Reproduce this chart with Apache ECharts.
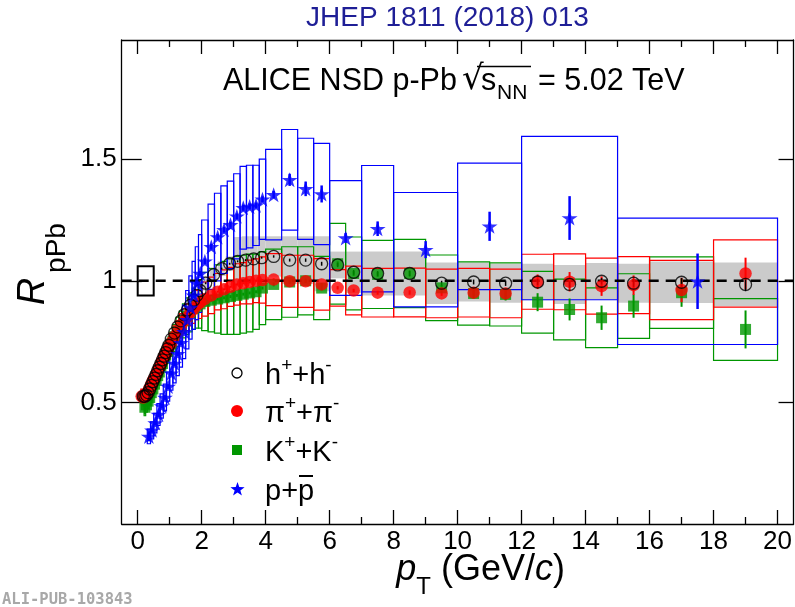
<!DOCTYPE html>
<html>
<head>
<meta charset="utf-8">
<title>ALICE NSD p-Pb R_pPb</title>
<script src="https://cdn.jsdelivr.net/npm/echarts@6/dist/echarts.min.js"></script>
<style>
  html, body { margin: 0; padding: 0; background: #fff; }
  #chart { width: 795px; height: 607px; }
</style>
</head>
<body>
<div id="chart"></div>
<script>
// ---- charged hadrons h+ + h- ----
const hPt = [0.175,0.225,0.275,0.325,0.375,0.425,0.475,0.525,0.575,0.625,0.675,0.725,0.775,0.825,0.875,0.925,0.975,
  1.05,1.15,1.25,1.35,1.45,1.55,1.65,1.75,1.85,1.95,
  2.125,2.375,2.625,2.875,3.125,3.375,3.625,3.875,
  4.25,4.75,5.25,5.75,6.25,6.75,
  7.5,8.5,9.5,
  10.5,11.5,12.5,13.5,14.5,15.5,
  17,19];
const hR = [0.525,0.525,0.53,0.54,0.555,0.57,0.585,0.60,0.615,0.63,0.645,0.66,0.675,0.69,0.705,0.72,0.735,
  0.76,0.785,0.81,0.835,0.86,0.88,0.90,0.92,0.94,0.96,
  0.99,1.025,1.05,1.07,1.08,1.085,1.09,1.095,
  1.10,1.085,1.085,1.07,1.065,1.035,
  1.03,1.03,0.99,
  0.995,0.99,0.995,0.985,0.998,0.99,
  0.994,0.985];
const hStat = [0.003,0.003,0.003,0.003,0.003,0.003,0.003,0.003,0.003,0.003,0.003,0.003,0.003,0.003,0.003,0.003,0.003,
  0.003,0.003,0.003,0.003,0.003,0.003,0.003,0.003,0.003,0.003,
  0.004,0.004,0.004,0.004,0.004,0.004,0.004,0.004,
  0.005,0.006,0.007,0.008,0.009,0.01,
  0.01,0.012,0.01,
  0.01,0.011,0.012,0.013,0.013,0.015,
  0.018,0.028];
const hSys = [0.02,0.02,0.02,0.02,0.02,0.02,0.02,0.02,0.02,0.02,0.02,0.02,0.02,0.02,0.02,0.02,0.02,
  0.025,0.025,0.025,0.025,0.025,0.025,0.025,0.025,0.025,0.025,
  0.03,0.03,0.03,0.03,0.1,0.098,0.093,0.088,
  0.083,0.098,0.098,0.113,0.055,0.085,
  0.09,0.09,0.085,
  0.08,0.08,0.075,0.08,0.075,0.08,
  0.085,0.09];
const hBinW = [0.05,0.05,0.05,0.05,0.05,0.05,0.05,0.05,0.05,0.05,0.05,0.05,0.05,0.05,0.05,0.05,0.05,
  0.1,0.1,0.1,0.1,0.1,0.1,0.1,0.1,0.1,0.1,
  0.25,0.25,0.25,0.25,0.25,0.25,0.25,0.25,
  0.5,0.5,0.5,0.5,0.5,0.5,
  1,1,1,
  1,1,1,1,1,1,
  2,2];

// ---- pions pi+ + pi- ----
const piPt = [0.125,0.175,0.225,0.275,0.325,0.375,0.425,0.475,0.525,0.575,0.625,0.675,0.725,0.775,0.825,0.875,0.925,0.975,
  1.05,1.15,1.25,1.35,1.45,1.55,1.65,1.75,1.85,1.95,
  2.1,2.3,2.5,2.7,2.9,3.1,3.3,3.5,3.7,3.9,
  4.25,4.75,5.25,5.75,6.25,6.75,
  7.5,8.5,9.5,
  10.5,11.5,12.5,13.5,14.5,15.5,
  17,19];
const piR = [0.525,0.52,0.525,0.535,0.545,0.56,0.575,0.59,0.60,0.615,0.63,0.645,0.66,0.675,0.69,0.70,0.715,0.73,
  0.745,0.77,0.79,0.815,0.835,0.85,0.87,0.885,0.90,0.91,
  0.925,0.94,0.955,0.965,0.975,0.985,0.99,0.995,1.0,1.003,
  1.005,0.998,0.998,0.985,0.971,0.96,
  0.951,0.952,0.948,
  0.951,0.948,0.996,0.996,0.978,0.982,
  0.962,1.03];
const piStat = [0.03,0.004,0.004,0.004,0.004,0.004,0.004,0.004,0.004,0.004,0.004,0.004,0.004,0.004,0.004,0.004,0.004,0.004,
  0.004,0.004,0.004,0.004,0.004,0.004,0.004,0.004,0.004,0.004,
  0.004,0.004,0.004,0.004,0.004,0.004,0.004,0.004,0.004,0.004,
  0.005,0.005,0.006,0.006,0.007,0.007,
  0.008,0.009,0.01,
  0.012,0.015,0.03,0.04,0.04,0.04,
  0.05,0.065];
const piSys = [0.03,0.025,0.025,0.025,0.025,0.025,0.025,0.025,0.025,0.03,0.03,0.03,0.03,0.03,0.03,0.03,0.035,0.035,
  0.04,0.045,0.045,0.05,0.05,0.055,0.055,0.06,0.06,0.065,
  0.07,0.075,0.075,0.08,0.08,0.085,0.085,0.09,0.09,0.095,
  0.107,0.107,0.107,0.106,0.075,0.1,
  0.1,0.1,0.1,
  0.1,0.1,0.113,0.115,0.115,0.117,
  0.122,0.138];
const piBinW = [0.05,0.05,0.05,0.05,0.05,0.05,0.05,0.05,0.05,0.05,0.05,0.05,0.05,0.05,0.05,0.05,0.05,0.05,
  0.1,0.1,0.1,0.1,0.1,0.1,0.1,0.1,0.1,0.1,
  0.2,0.2,0.2,0.2,0.2,0.2,0.2,0.2,0.2,0.2,
  0.5,0.5,0.5,0.5,0.5,0.5,
  1,1,1,
  1,1,1,1,1,1,
  2,2];

// ---- kaons K+ + K- ----
const kPt = [0.225,0.275,0.325,0.375,0.425,0.475,0.525,0.575,0.625,0.675,0.725,0.775,0.825,0.875,0.925,0.975,
  1.05,1.15,1.25,1.35,1.45,1.55,1.65,1.75,1.85,1.95,
  2.1,2.3,2.5,2.7,2.9,3.1,3.3,3.5,3.7,3.9,
  4.25,4.75,5.25,5.75,6.25,6.75,
  7.5,8.5,9.5,
  10.5,11.5,12.5,13.5,14.5,15.5,
  17,19];
const kR = [0.48,0.49,0.505,0.52,0.54,0.555,0.575,0.59,0.61,0.625,0.645,0.66,0.68,0.695,0.71,0.725,
  0.74,0.765,0.79,0.81,0.835,0.855,0.87,0.885,0.895,0.905,
  0.915,0.92,0.925,0.93,0.935,0.94,0.945,0.95,0.955,0.97,
  0.985,0.995,1.0,0.97,1.07,1.03,
  1.026,1.03,0.971,
  0.948,0.944,0.912,0.882,0.848,0.896,
  0.951,0.80];
const kStat = [0.03,0.005,0.005,0.005,0.005,0.005,0.005,0.005,0.005,0.005,0.005,0.005,0.005,0.005,0.005,0.005,
  0.005,0.005,0.005,0.005,0.005,0.005,0.005,0.005,0.005,0.005,
  0.006,0.006,0.006,0.006,0.006,0.006,0.006,0.006,0.006,0.006,
  0.008,0.008,0.009,0.01,0.01,0.01,
  0.01,0.011,0.012,
  0.02,0.025,0.037,0.045,0.05,0.048,
  0.058,0.078];
const kSys = [0.035,0.03,0.03,0.03,0.03,0.03,0.03,0.035,0.035,0.035,0.035,0.04,0.04,0.04,0.04,0.045,
  0.05,0.055,0.06,0.065,0.07,0.075,0.08,0.085,0.09,0.1,
  0.12,0.13,0.14,0.15,0.155,0.16,0.16,0.16,0.155,0.15,
  0.145,0.145,0.14,0.13,0.166,0.15,
  0.14,0.14,0.135,
  0.13,0.13,0.127,0.125,0.123,0.133,
  0.147,0.127];
const kBinW = [0.05,0.05,0.05,0.05,0.05,0.05,0.05,0.05,0.05,0.05,0.05,0.05,0.05,0.05,0.05,0.05,
  0.1,0.1,0.1,0.1,0.1,0.1,0.1,0.1,0.1,0.1,
  0.2,0.2,0.2,0.2,0.2,0.2,0.2,0.2,0.2,0.2,
  0.5,0.5,0.5,0.5,0.5,0.5,
  1,1,1,
  1,1,1,1,1,1,
  2,2];

// ---- protons p + pbar ----
const pPt = [0.35,0.45,0.55,0.65,0.75,0.85,0.95,
  1.05,1.15,1.25,1.35,1.45,1.55,1.65,1.75,1.85,1.95,
  2.1,2.3,2.5,2.7,2.9,3.1,3.3,3.5,3.7,3.9,
  4.25,4.75,5.25,5.75,
  6.5,7.5,9,11,13.5,17.5];
const pR = [0.36,0.385,0.415,0.45,0.485,0.52,0.565,
  0.62,0.66,0.70,0.745,0.79,0.84,0.89,0.94,0.99,1.03,
  1.08,1.14,1.18,1.21,1.23,1.265,1.30,1.305,1.31,1.335,
  1.354,1.415,1.378,1.357,
  1.176,1.214,1.128,1.224,1.258,0.998];
const pStat = [0.02,0.01,0.01,0.01,0.01,0.01,0.01,
  0.01,0.01,0.01,0.01,0.01,0.01,0.01,0.01,0.01,0.01,
  0.012,0.012,0.012,0.012,0.012,0.012,0.012,0.012,0.012,0.012,
  0.015,0.025,0.03,0.035,
  0.02,0.03,0.035,0.06,0.09,0.114];
const pSys = [0.03,0.035,0.04,0.045,0.05,0.055,0.06,
  0.07,0.08,0.09,0.1,0.11,0.12,0.13,0.14,0.15,0.16,
  0.17,0.175,0.18,0.18,0.18,0.175,0.17,0.17,0.165,0.165,
  0.186,0.207,0.208,0.208,
  0.236,0.26,0.235,0.26,0.336,0.26];
const pBinW = [0.1,0.1,0.1,0.1,0.1,0.1,0.1,
  0.1,0.1,0.1,0.1,0.1,0.1,0.1,0.1,0.1,0.1,
  0.2,0.2,0.2,0.2,0.2,0.2,0.2,0.2,0.2,0.2,
  0.5,0.5,0.5,0.5,
  1,1,2,2,3,5];

// normalisation uncertainty, drawn as a box at unity
const normCenter = [0.25];
const normUnc = [0.06];
const normBinW = [0.5];
const unityR = 1;

// axis ticks and labels
const xMajorTicks = [0,2,4,6,8,10,12,14,16,18,20];
const xMinorTicks = [1,3,5,7,9,11,13,15,17,19];
const yTicks = [0.5,1,1.5];

// ---- drawing helpers ----
const FONT = '"Liberation Sans", Arial, Helvetica, sans-serif';
const RED = '#ff0000', GREEN = '#009600', BLUE = '#0000ff', GREY = '#cbcbcb';
const STAR = 'path://M50,0L61.8,35.1L98.9,35.1L68.8,56.8L80.2,91.9L50,70.2L19.8,91.9L31.2,56.8L1.1,35.1L38.2,35.1Z';

function boxData(pt, r, sys, w) { return pt.map((x, i) => [x, r[i], sys[i], w[i]]); }
function errData(pt, r, stat) { return pt.map((x, i) => [x, r[i], stat[i]]); }
function pointData(pt, r) { return pt.map((x, i) => [x, r[i]]); }

function boxSeries(data, color, filled, lw) {
  return {
    type: 'custom', silent: true, data: data, encode: { x: 0, y: 1 },
    renderItem: function (params, api) {
      const x = api.value(0), y = api.value(1), e = api.value(2), w = api.value(3);
      const a = api.coord([x - w / 2, y + e]);
      const b = api.coord([x + w / 2, y - e]);
      return {
        type: 'rect',
        shape: { x: a[0], y: a[1], width: b[0] - a[0], height: b[1] - a[1] },
        style: filled ? { fill: color } : { fill: 'none', stroke: color, lineWidth: lw }
      };
    }
  };
}

function errSeries(data, color, lw) {
  return {
    type: 'custom', silent: true, data: data, encode: { x: 0, y: 1 },
    renderItem: function (params, api) {
      const x = api.value(0), y = api.value(1), e = api.value(2);
      const a = api.coord([x, y + e]);
      const b = api.coord([x, y - e]);
      return { type: 'line', shape: { x1: a[0], y1: a[1], x2: b[0], y2: b[1] }, style: { stroke: color, lineWidth: lw } };
    }
  };
}

function markerSeries(data, symbol, size, itemStyle) {
  return { type: 'scatter', silent: true, data: data, symbol: symbol, symbolSize: size, itemStyle: itemStyle };
}

const lineStyle = { color: '#000', width: 1.3 };

function xAxisDef(position, ticks, len, withLine, withLabel) {
  return {
    type: 'value', position: position, min: -0.5, max: 20.5,
    axisLine: { show: withLine, onZero: false, lineStyle: lineStyle },
    axisTick: { show: true, inside: true, length: len, customValues: ticks, lineStyle: lineStyle },
    axisLabel: withLabel
      ? { show: true, customValues: ticks, fontSize: 26, fontFamily: FONT, color: '#000', margin: 5 }
      : { show: false },
    splitLine: { show: false }
  };
}
function yAxisDef(position, len, withLabel) {
  return {
    type: 'value', position: position, min: 0, max: 1.99,
    axisLine: { show: true, onZero: false, lineStyle: lineStyle },
    axisTick: { show: true, inside: true, length: len, customValues: yTicks, lineStyle: lineStyle },
    axisLabel: withLabel
      ? { show: true, customValues: yTicks, fontSize: 26, fontFamily: FONT, color: '#000', margin: 5 }
      : { show: false },
    splitLine: { show: false }
  };
}

const supRich = {
  m: { fontSize: 29, fontFamily: FONT, lineHeight: 34, verticalAlign: 'bottom', fill: '#000' },
  s: { fontSize: 19, fontFamily: FONT, lineHeight: 22, verticalAlign: 'top', fill: '#000' }
};
function legendText(y, text) {
  return { type: 'text', x: 265, y: y, style: { text: text, rich: supRich, align: 'left', verticalAlign: 'middle', fill: '#000' } };
}

// five-pointed star outline for the legend glyph
function starPoints(cx, cy, rOut, rIn) {
  const pts = [];
  for (let k = 0; k < 10; k++) {
    const r = k % 2 === 0 ? rOut : rIn;
    const a = -Math.PI / 2 + k * Math.PI / 5;
    pts.push([cx + r * Math.cos(a), cy + r * Math.sin(a)]);
  }
  return pts;
}

// x-axis title pieces laid out with measured widths
const measureCtx = document.createElement('canvas').getContext('2d');
function textWidth(str, font) { measureCtx.font = font; return measureCtx.measureText(str).width; }
const titleSize = 36, subSize = 24;
const titleParts = [
  { t: 'p', italic: true, size: titleSize, dy: 0 },
  { t: 'T', italic: false, size: subSize, dy: 11 },
  { t: ' (GeV/', italic: false, size: titleSize, dy: 0 },
  { t: 'c', italic: true, size: titleSize, dy: 0 },
  { t: ')', italic: false, size: titleSize, dy: 0 }
];
const titleRight = 565, titleBase = 588;
let titleTotal = 0;
titleParts.forEach(p => {
  p.font = (p.italic ? 'italic ' : '') + p.size + 'px "Liberation Sans"';
  p.w = textWidth(p.t, p.font);
  titleTotal += p.w;
});
let cursor = titleRight - titleTotal;
const titleGraphics = titleParts.map(p => {
  const g = { type: 'text', x: cursor, y: titleBase + p.dy, style: {
    text: p.t, fontSize: p.size, fontStyle: p.italic ? 'italic' : 'normal', fontFamily: FONT,
    fill: '#000', align: 'left', verticalAlign: 'bottom', lineHeight: p.size } };
  cursor += p.w;
  return g;
});

const chart = echarts.init(document.getElementById('chart'), null, { renderer: 'canvas' });

chart.setOption({
  animation: false,
  backgroundColor: '#fff',
  grid: { left: 121.7, right: 1.3, top: 40, bottom: 83, containLabel: false },
  xAxis: [
    xAxisDef('bottom', xMajorTicks, 14, true, true),
    xAxisDef('bottom', xMinorTicks, 7, false, false),
    xAxisDef('top', xMajorTicks, 14, true, false),
    xAxisDef('top', xMinorTicks, 7, false, false)
  ],
  yAxis: [
    yAxisDef('left', 20, true),
    yAxisDef('right', 15, false)
  ],
  series: [
    // systematic uncertainties
    boxSeries(boxData(hPt, hR, hSys, hBinW), GREY, true, 0),
    boxSeries(boxData(kPt, kR, kSys, kBinW), GREEN, false, 1.2),
    boxSeries(boxData(piPt, piR, piSys, piBinW), RED, false, 1.2),
    boxSeries(boxData(pPt, pR, pSys, pBinW), BLUE, false, 1.2),
    boxSeries([[normCenter[0], unityR, normUnc[0], normBinW[0]]], '#000', false, 2),
    // reference line at unity
    {
      type: 'custom', silent: true, data: [[0, unityR]], encode: { x: 0, y: 1 },
      renderItem: function (params, api) {
        const cs = params.coordSys;
        const y = api.coord([0, api.value(1)])[1];
        return { type: 'line', shape: { x1: cs.x, y1: y, x2: cs.x + cs.width, y2: y },
                 style: { stroke: '#000', lineWidth: 2.5, lineDash: [10, 7] } };
      }
    },
    // statistical uncertainties
    errSeries(errData(kPt, kR, kStat), GREEN, 2),
    errSeries(errData(piPt, piR, piStat), RED, 2),
    errSeries(errData(hPt, hR, hStat), '#000', 1.5),
    errSeries(errData(pPt, pR, pStat), BLUE, 2.5),
    // markers
    markerSeries(pointData(kPt, kR), 'rect', 11, { color: GREEN }),
    markerSeries(pointData(piPt, piR), 'circle', 12.5, { color: RED }),
    markerSeries(pointData(hPt, hR), 'circle', 12, { color: 'rgba(0,0,0,0)', borderColor: '#000', borderWidth: 1.3 }),
    markerSeries(pointData(pPt, pR), STAR, [16, 15], { color: BLUE })
  ],
  graphic: [
    // header
    { type: 'text', x: 447.5, y: 18, style: { text: 'JHEP 1811 (2018) 013', fontSize: 28, fontFamily: FONT, fill: '#1e1e96', align: 'center', verticalAlign: 'middle' } },
    // system label
    { type: 'text', x: 223, y: 82, style: { text: 'ALICE NSD p-Pb', fontSize: 30.5, fontFamily: FONT, fill: '#000', align: 'left', verticalAlign: 'middle' } },
    { type: 'text', x: 462, y: 80, style: { text: '√', fontSize: 34, fontFamily: '"DejaVu Sans", sans-serif', fill: '#000', align: 'left', verticalAlign: 'middle' } },
    { type: 'line', shape: { x1: 477, y1: 66.5, x2: 531, y2: 66.5 }, style: { stroke: '#000', lineWidth: 1.3 } },
    { type: 'text', x: 481, y: 82, style: { text: 's', fontSize: 30.5, fontFamily: FONT, fill: '#000', align: 'left', verticalAlign: 'middle' } },
    { type: 'text', x: 497, y: 93, style: { text: 'NN', fontSize: 21, fontFamily: FONT, fill: '#000', align: 'left', verticalAlign: 'middle' } },
    { type: 'text', x: 538, y: 82, style: { text: '= 5.02 TeV', fontSize: 30.5, fontFamily: FONT, fill: '#000', align: 'left', verticalAlign: 'middle' } },
    // y-axis title
    { type: 'text', x: 33.5, y: 291.5, rotation: Math.PI / 2, style: { text: 'R', fontSize: 38, fontStyle: 'italic', fontFamily: FONT, fill: '#000', align: 'center', verticalAlign: 'middle' } },
    { type: 'text', x: 57.5, y: 248, rotation: Math.PI / 2, style: { text: 'pPb', fontSize: 28, fontFamily: FONT, fill: '#000', align: 'center', verticalAlign: 'middle' } },
    // x-axis title
    ...titleGraphics,
    // legend
    { type: 'circle', shape: { cx: 237, cy: 373, r: 5 }, style: { fill: 'none', stroke: '#000', lineWidth: 1.3 } },
    legendText(373, '{m|h}{s|+}{m|+h}{s|-}'),
    { type: 'circle', shape: { cx: 237, cy: 411, r: 6 }, style: { fill: RED } },
    legendText(411, '{m|π}{s|+}{m|+π}{s|-}'),
    { type: 'rect', shape: { x: 232, y: 445, width: 10, height: 10 }, style: { fill: GREEN } },
    legendText(450, '{m|K}{s|+}{m|+K}{s|-}'),
    { type: 'polygon', shape: { points: starPoints(237.5, 489.5, 7.5, 3) }, style: { fill: BLUE } },
    legendText(489, '{m|p+p}'),
    { type: 'line', shape: { x1: 299, y1: 476, x2: 313, y2: 476 }, style: { stroke: '#000', lineWidth: 2 } },
    // publication id
    { type: 'text', x: 2, y: 600, style: { text: 'ALI-PUB-103843', fontSize: 15.5, fontWeight: 'bold', fontFamily: '"DejaVu Sans Mono", monospace', fill: '#a8a8a8', align: 'left', verticalAlign: 'middle' } }
  ]
});
</script>
</body>
</html>
